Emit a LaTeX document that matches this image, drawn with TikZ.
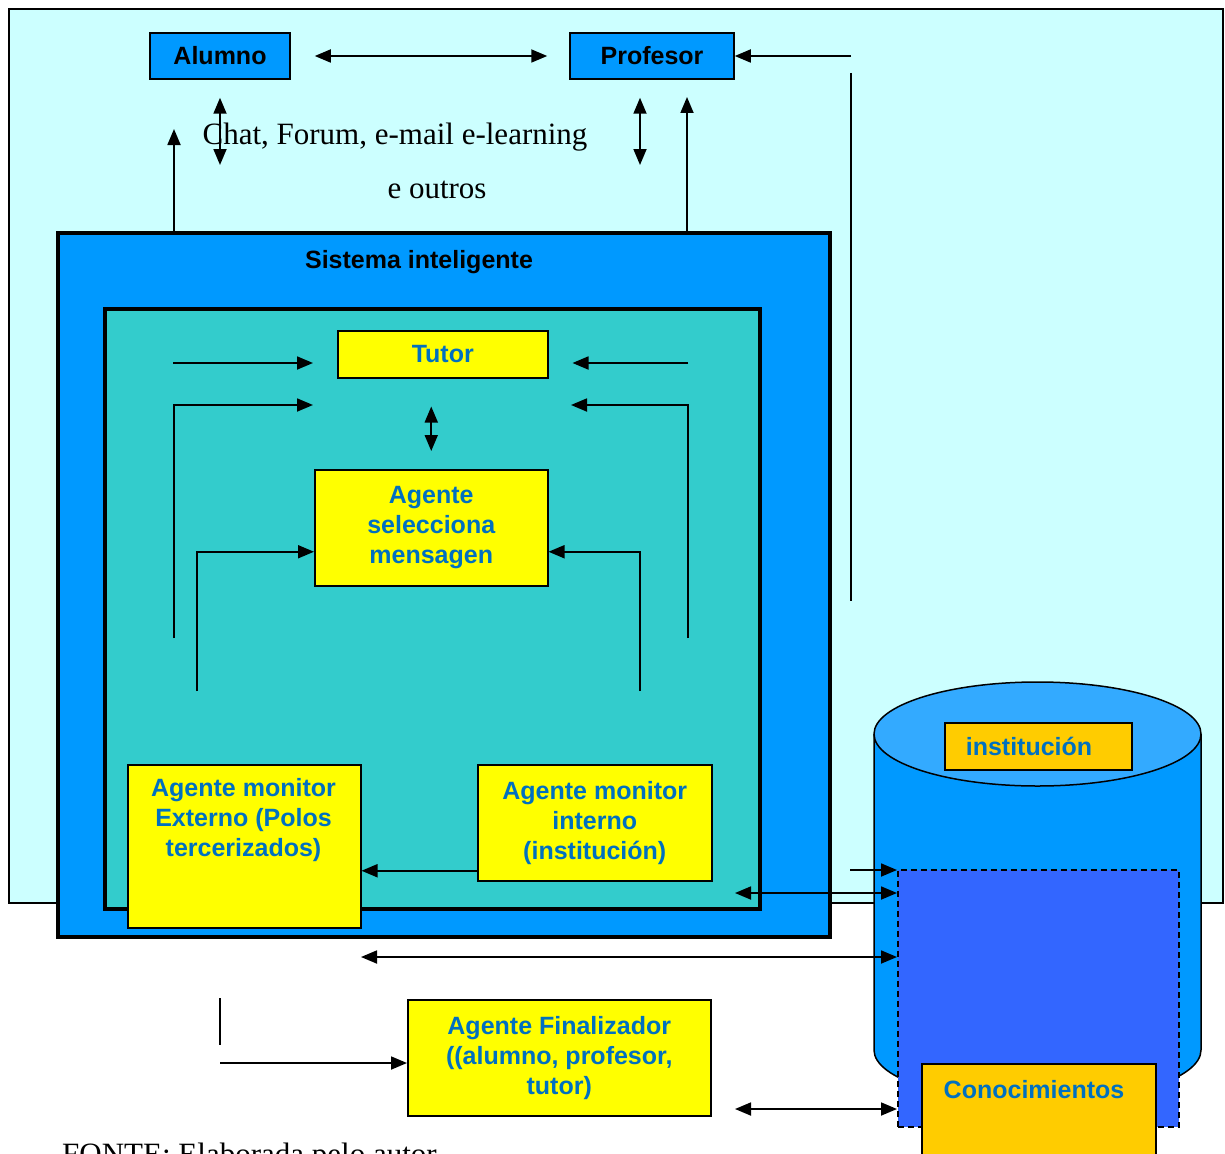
\documentclass[tikz,border=0pt]{standalone}
\usepackage{fontspec}
\setmainfont{Liberation Serif}
\setsansfont{Liberation Sans}
\usetikzlibrary{arrows.meta,positioning}
\definecolor{fundo}{HTML}{CCFFFF}
\definecolor{azul}{HTML}{0099FF}
\definecolor{verdeagua}{HTML}{33CCCC}
\definecolor{amarelo}{HTML}{FFFF00}
\definecolor{ouro}{HTML}{FFCC00}
\definecolor{txtazul}{HTML}{0070C0}
\definecolor{memazul}{HTML}{3366FF}
\definecolor{tampa}{HTML}{33AAFF}
\tikzset{
  lw/.style={line width=1.5pt},
  bigfont/.style={font=\sffamily\bfseries\fontsize{25}{30}\selectfont},
  actor/.style={draw, lw, fill=azul, bigfont},
  agent/.style={draw, lw, fill=amarelo, text=txtazul, align=center, bigfont},
  store/.style={agent, fill=ouro},
  frame/.style={draw, line width=3.5pt, anchor=north west},
  arr/.style={line width=1.8pt, ->},
  dbl/.style={line width=1.8pt, <->},
  wire/.style={line width=1.8pt},
  >={Triangle[length=16pt,width=13pt]},
}

\begin{document}
\begin{tikzpicture}[x=1pt, y=-1pt, every node/.style={inner sep=0pt}]

\useasboundingbox (0,0) rectangle (1225,1153);
\clip (0,0) rectangle (1225,1153);
\fill[white] (0,0) rectangle (1225,1153);

% web environment
\draw[lw, fill=fundo] (9,9) rectangle (1223,903);

\node[actor, minimum width=140, minimum height=46] (alumno) at (220,56) {Alumno};
\node[actor, minimum width=164, minimum height=46] (profesor) at (652,56) {Profesor};

\node[anchor=base, font=\fontsize{31}{36}\selectfont] (chat) at (395,144)
  {Chat, Forum, e-mail e-learning};
\node[anchor=base, font=\fontsize{31}{36}\selectfont] (outros) at (437,198) {e outros};

% intelligent system
\node[frame, fill=azul, minimum width=772, minimum height=704] (sis) at (56,231) {};
\node[anchor=base, bigfont] (sisLbl) at (419,268) {Sistema inteligente};
\node[frame, fill=verdeagua, minimum width=655, minimum height=600] (inner) at (103,307) {};

\node[agent, anchor=north west, minimum width=210, minimum height=47] (tutor) at (337,330) {Tutor};
\node[agent, anchor=north west, minimum width=233, minimum height=116] (sel) at (314,469)
  {Agente\\selecciona\\mensagen};
\node[agent, anchor=north west, minimum width=234, minimum height=116] (interno) at (477,764)
  {Agente monitor\\interno\\(institución)};
\node[agent, anchor=north west, minimum width=233, minimum height=163] (externo) at (127,764) {};
\node[align=center, text=txtazul, bigfont] (externoTxt) at (243.5,820)
  {Agente monitor\\Externo (Polos\\tercerizados)};

\node[agent, anchor=north west, minimum width=303, minimum height=116] (fin) at (407,999)
  {Agente Finalizador\\((alumno, profesor,\\tutor)};

% database cylinder
\draw[lw, fill=azul] (874,734) -- (874,1050)
  .. controls (874,1078.7) and (947.2,1102) .. (1037.5,1102)
  .. controls (1127.8,1102) and (1201,1078.7) .. (1201,1050) -- (1201,734);
\draw[lw, fill=tampa] (1037.5,734) ellipse [x radius=163.5, y radius=52];
\node[store, anchor=north west, minimum width=187, minimum height=47] (inst) at (944,722) {};
\node[text=txtazul, bigfont] (instTxt) at (1029,746) {institución};
\node[draw, lw, dash pattern=on 6pt off 4pt, fill=memazul, anchor=north west,
  minimum width=281, minimum height=257] (mem) at (897,869) {};
\node[store, anchor=north west, minimum width=234, minimum height=130] (cono) at (921,1063) {};
\node[text=txtazul, bigfont] (conoTxt) at (1034,1090) {Conocimientos};

% top connectors
\draw[dbl, shorten <=24pt, shorten >=22pt] (alumno) -- (profesor);
\coordinate (rTop) at (851,56);
\draw[arr] (rTop) -- (profesor);
\coordinate (rA) at (851,73);
\coordinate (rB) at (851,601);
\draw[wire] (rA) -- (rB);
\coordinate (aDn) at (220,165);
\draw[dbl, shorten <=18pt] (alumno.south) -- (aDn);
\coordinate (aUp) at (174,129);
\draw[arr] (sis.north -| aUp) -- (aUp);
\coordinate (pDn) at (640,165);
\draw[dbl, shorten <=18pt] (profesor.south -| pDn) -- (pDn);
\coordinate (pUp) at (687,97);
\draw[arr] (sis.north -| pUp) -- (pUp);

% inside the system
\coordinate (tA) at (173,363);
\draw[arr, shorten >=24pt] (tA) -- (tA -| tutor.west);
\coordinate (tB) at (688,363);
\draw[arr, shorten >=24pt] (tB) -- (tB -| tutor.east);
\coordinate (tC) at (174,638);
\coordinate (tCe) at (313,405);
\draw[arr] (tC) |- (tCe);
\coordinate (tD) at (688,638);
\coordinate (tDe) at (571,405);
\draw[arr] (tD) |- (tDe);
\draw[dbl, shorten <=28pt, shorten >=18pt] (sel.north |- tutor.south) -- (sel.north);
\coordinate (sA) at (197,691);
\draw[arr] (sA) |- ([yshift=-24pt]sel.west);
\coordinate (sB) at (640,691);
\draw[arr] (sB) |- ([yshift=-24pt]sel.east);
\draw[arr] ([yshift=-48pt]interno.west) -- ([yshift=-48pt]interno.west -| externo.east);

% to the knowledge base
\coordinate (kA) at (850,870);
\draw[arr] (kA) -- (kA -| mem.west);
\coordinate (kB) at (735,893);
\draw[dbl] (kB) -- (kB -| mem.west);
\coordinate (kC) at (361,957);
\draw[dbl] (kC) -- (kC -| mem.west);
\coordinate (kD) at (735,1109);
\draw[dbl] (kD) -- (kD -| mem.west);

% finalizer
\coordinate (fA) at (220,998);
\coordinate (fB) at (220,1045);
\draw[wire] (fA) -- (fB);
\coordinate (fC) at (220,1063);
\draw[arr] (fC) -- (fC -| fin.west);

\node[anchor=base west, font=\fontsize{31}{36}\selectfont] (fonte) at (62,1164)
  {FONTE: Elaborada pelo autor};

\end{tikzpicture}
\end{document}
